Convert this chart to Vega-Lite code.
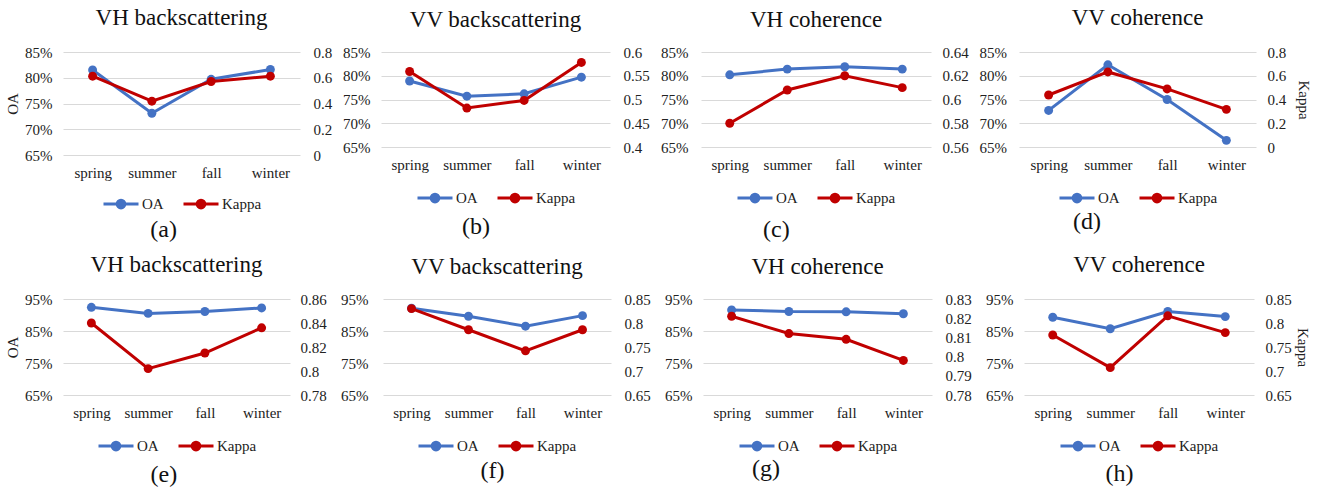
{
"$schema": "https://vega.github.io/schema/vega-lite/v6.json",
"padding": {"left": 5, "top": 7, "right": 5, "bottom": 5},
"datasets": {"acc": [
{"panel":"a","season":"spring","metric":"OA","value":0.815},{"panel":"a","season":"summer","metric":"OA","value":0.731},{"panel":"a","season":"fall","metric":"OA","value":0.797},{"panel":"a","season":"winter","metric":"OA","value":0.816},
{"panel":"a","season":"spring","metric":"Kappa","value":0.612},{"panel":"a","season":"summer","metric":"Kappa","value":0.418},{"panel":"a","season":"fall","metric":"Kappa","value":0.571},{"panel":"a","season":"winter","metric":"Kappa","value":0.612},
{"panel":"b","season":"spring","metric":"OA","value":0.789},{"panel":"b","season":"summer","metric":"OA","value":0.757},{"panel":"b","season":"fall","metric":"OA","value":0.762},{"panel":"b","season":"winter","metric":"OA","value":0.797},
{"panel":"b","season":"spring","metric":"Kappa","value":0.559},{"panel":"b","season":"summer","metric":"Kappa","value":0.482},{"panel":"b","season":"fall","metric":"Kappa","value":0.498},{"panel":"b","season":"winter","metric":"Kappa","value":0.578},
{"panel":"c","season":"spring","metric":"OA","value":0.802},{"panel":"c","season":"summer","metric":"OA","value":0.814},{"panel":"c","season":"fall","metric":"OA","value":0.819},{"panel":"c","season":"winter","metric":"OA","value":0.814},
{"panel":"c","season":"spring","metric":"Kappa","value":0.580},{"panel":"c","season":"summer","metric":"Kappa","value":0.608},{"panel":"c","season":"fall","metric":"Kappa","value":0.620},{"panel":"c","season":"winter","metric":"Kappa","value":0.610},
{"panel":"d","season":"spring","metric":"OA","value":0.727},{"panel":"d","season":"summer","metric":"OA","value":0.823},{"panel":"d","season":"fall","metric":"OA","value":0.750},{"panel":"d","season":"winter","metric":"OA","value":0.664},
{"panel":"d","season":"spring","metric":"Kappa","value":0.438},{"panel":"d","season":"summer","metric":"Kappa","value":0.632},{"panel":"d","season":"fall","metric":"Kappa","value":0.489},{"panel":"d","season":"winter","metric":"Kappa","value":0.317},
{"panel":"e","season":"spring","metric":"OA","value":0.924},{"panel":"e","season":"summer","metric":"OA","value":0.905},{"panel":"e","season":"fall","metric":"OA","value":0.911},{"panel":"e","season":"winter","metric":"OA","value":0.922},
{"panel":"e","season":"spring","metric":"Kappa","value":0.840},{"panel":"e","season":"summer","metric":"Kappa","value":0.802},{"panel":"e","season":"fall","metric":"Kappa","value":0.815},{"panel":"e","season":"winter","metric":"Kappa","value":0.836},
{"panel":"f","season":"spring","metric":"OA","value":0.921},{"panel":"f","season":"summer","metric":"OA","value":0.896},{"panel":"f","season":"fall","metric":"OA","value":0.865},{"panel":"f","season":"winter","metric":"OA","value":0.898},
{"panel":"f","season":"spring","metric":"Kappa","value":0.830},{"panel":"f","season":"summer","metric":"Kappa","value":0.786},{"panel":"f","season":"fall","metric":"Kappa","value":0.742},{"panel":"f","season":"winter","metric":"Kappa","value":0.786},
{"panel":"g","season":"spring","metric":"OA","value":0.916},{"panel":"g","season":"summer","metric":"OA","value":0.911},{"panel":"g","season":"fall","metric":"OA","value":0.910},{"panel":"g","season":"winter","metric":"OA","value":0.904},
{"panel":"g","season":"spring","metric":"Kappa","value":0.821},{"panel":"g","season":"summer","metric":"Kappa","value":0.812},{"panel":"g","season":"fall","metric":"Kappa","value":0.809},{"panel":"g","season":"winter","metric":"Kappa","value":0.798},
{"panel":"h","season":"spring","metric":"OA","value":0.893},{"panel":"h","season":"summer","metric":"OA","value":0.857},{"panel":"h","season":"fall","metric":"OA","value":0.911},{"panel":"h","season":"winter","metric":"OA","value":0.895},
{"panel":"h","season":"spring","metric":"Kappa","value":0.775},{"panel":"h","season":"summer","metric":"Kappa","value":0.707},{"panel":"h","season":"fall","metric":"Kappa","value":0.815},{"panel":"h","season":"winter","metric":"Kappa","value":0.780}
]},
"spacing": 12,
"resolve": {"scale": {"color": "independent", "x": "independent", "y": "independent"}, "legend": {"color": "independent"}},
"vconcat": [
{"spacing": 10,
 "resolve": {"scale": {"color": "independent", "x": "independent", "y": "independent"}, "legend": {"color": "independent"}},
 "hconcat": [
 {"title": {"text": "(a)", "orient": "bottom", "anchor": "middle", "fontSize": 24, "offset": 4, "dx": -5, "dy": 0},
  "resolve": {"scale": {"color": "independent"}, "legend": {"color": "independent"}},
  "vconcat": [{
   "title": {"text": "VH backscattering"}, "width": 237, "height": 103,
   "data": {"name": "acc"}, "transform": [{"filter": "datum.panel === 'a'"}],
   "encoding": {"x": {"field": "season", "type": "ordinal", "sort": ["spring","summer","fall","winter"], "scale": {"type": "point", "padding": 0.5}, "axis": {"title": null, "labelAngle": 0, "labelPadding": 10, "grid": false, "labelFont": "Liberation Serif"}}},
   "resolve": {"scale": {"y": "independent"}},
   "layer": [
    {"transform": [{"filter": "datum.metric === 'OA'"}], "mark": {"type": "line", "strokeWidth": 3, "point": {"filled": true, "size": 80}},
     "encoding": {"y": {"field": "value", "type": "quantitative", "scale": {"domain": [0.65, 0.85], "nice": false, "zero": false}, "axis": {"orient": "left", "format": ".0%", "values": [0.65,0.7,0.75,0.8,0.85], "grid": true, "title": "OA", "labelPadding": 11, "labelFont": "Liberation Serif", "titleFont": "Liberation Serif"}},
      "color": {"field": "metric", "type": "nominal", "scale": {"domain": ["OA","Kappa"], "range": ["#4472C4","#C00000"]}, "legend": {"title": null, "orient": "bottom", "direction": "horizontal", "labelFont": "Liberation Serif", "symbolType": "M-1,0L1,0M0.22,0A0.22,0.22,0,1,1,-0.22,0A0.22,0.22,0,1,1,0.22,0Z", "symbolSize": 1225, "symbolStrokeWidth": 3, "labelOffset": 2, "columnPadding": 13, "offset": 5, "encode": {"symbols": {"update": {"fill": {"signal": "datum.value === 'OA' ? '#4472C4' : '#C00000'"}, "stroke": {"signal": "datum.value === 'OA' ? '#4472C4' : '#C00000'"}, "fillOpacity": {"value": 1}, "opacity": {"value": 1}}}}}}}},
    {"transform": [{"filter": "datum.metric === 'Kappa'"}], "mark": {"type": "line", "strokeWidth": 3, "point": {"filled": true, "size": 80}},
     "encoding": {"y": {"field": "value", "type": "quantitative", "scale": {"domain": [0, 0.8], "nice": false, "zero": false}, "axis": {"orient": "right", "format": ".2~f", "values": [0,0.2,0.4,0.6,0.8], "grid": false, "title": null, "labelPadding": 13, "labelFont": "Liberation Serif"}},
      "color": {"field": "metric", "type": "nominal", "scale": {"domain": ["OA","Kappa"], "range": ["#4472C4","#C00000"]}, "legend": {"title": null, "orient": "bottom", "direction": "horizontal", "labelFont": "Liberation Serif", "symbolType": "M-1,0L1,0M0.22,0A0.22,0.22,0,1,1,-0.22,0A0.22,0.22,0,1,1,0.22,0Z", "symbolSize": 1225, "symbolStrokeWidth": 3, "labelOffset": 2, "columnPadding": 13, "offset": 5, "encode": {"symbols": {"update": {"fill": {"signal": "datum.value === 'OA' ? '#4472C4' : '#C00000'"}, "stroke": {"signal": "datum.value === 'OA' ? '#4472C4' : '#C00000'"}, "fillOpacity": {"value": 1}, "opacity": {"value": 1}}}}}}}}
   ]}]},
 {"title": {"text": "(b)", "orient": "bottom", "anchor": "middle", "fontSize": 24, "offset": 4, "dx": -20, "dy": 3},
  "resolve": {"scale": {"color": "independent"}, "legend": {"color": "independent"}},
  "vconcat": [{
   "title": {"text": "VV backscattering", "dy": 2}, "width": 229, "height": 95,
   "data": {"name": "acc"}, "transform": [{"filter": "datum.panel === 'b'"}],
   "encoding": {"x": {"field": "season", "type": "ordinal", "sort": ["spring","summer","fall","winter"], "scale": {"type": "point", "padding": 0.5}, "axis": {"title": null, "labelAngle": 0, "labelPadding": 10, "grid": false, "labelFont": "Liberation Serif"}}},
   "resolve": {"scale": {"y": "independent"}},
   "layer": [
    {"transform": [{"filter": "datum.metric === 'OA'"}], "mark": {"type": "line", "strokeWidth": 3, "point": {"filled": true, "size": 80}},
     "encoding": {"y": {"field": "value", "type": "quantitative", "scale": {"domain": [0.65, 0.85], "nice": false, "zero": false}, "axis": {"orient": "left", "format": ".0%", "values": [0.65,0.7,0.75,0.8,0.85], "grid": true, "title": null, "labelPadding": 11, "labelFont": "Liberation Serif"}},
      "color": {"field": "metric", "type": "nominal", "scale": {"domain": ["OA","Kappa"], "range": ["#4472C4","#C00000"]}, "legend": {"title": null, "orient": "bottom", "direction": "horizontal", "labelFont": "Liberation Serif", "symbolType": "M-1,0L1,0M0.22,0A0.22,0.22,0,1,1,-0.22,0A0.22,0.22,0,1,1,0.22,0Z", "symbolSize": 1225, "symbolStrokeWidth": 3, "labelOffset": 2, "columnPadding": 13, "offset": 7, "encode": {"symbols": {"update": {"fill": {"signal": "datum.value === 'OA' ? '#4472C4' : '#C00000'"}, "stroke": {"signal": "datum.value === 'OA' ? '#4472C4' : '#C00000'"}, "fillOpacity": {"value": 1}, "opacity": {"value": 1}}}}}}}},
    {"transform": [{"filter": "datum.metric === 'Kappa'"}], "mark": {"type": "line", "strokeWidth": 3, "point": {"filled": true, "size": 80}},
     "encoding": {"y": {"field": "value", "type": "quantitative", "scale": {"domain": [0.4, 0.6], "nice": false, "zero": false}, "axis": {"orient": "right", "format": ".2~f", "values": [0.4,0.45,0.5,0.55,0.6], "grid": false, "title": null, "labelPadding": 13, "labelFont": "Liberation Serif"}},
      "color": {"field": "metric", "type": "nominal", "scale": {"domain": ["OA","Kappa"], "range": ["#4472C4","#C00000"]}, "legend": {"title": null, "orient": "bottom", "direction": "horizontal", "labelFont": "Liberation Serif", "symbolType": "M-1,0L1,0M0.22,0A0.22,0.22,0,1,1,-0.22,0A0.22,0.22,0,1,1,0.22,0Z", "symbolSize": 1225, "symbolStrokeWidth": 3, "labelOffset": 2, "columnPadding": 13, "offset": 7, "encode": {"symbols": {"update": {"fill": {"signal": "datum.value === 'OA' ? '#4472C4' : '#C00000'"}, "stroke": {"signal": "datum.value === 'OA' ? '#4472C4' : '#C00000'"}, "fillOpacity": {"value": 1}, "opacity": {"value": 1}}}}}}}}
   ]}]},
 {"title": {"text": "(c)", "orient": "bottom", "anchor": "middle", "fontSize": 24, "offset": 4, "dx": -38, "dy": 6},
  "resolve": {"scale": {"color": "independent"}, "legend": {"color": "independent"}},
  "vconcat": [{
   "title": {"text": "VH coherence", "dy": 2}, "width": 230, "height": 95,
   "data": {"name": "acc"}, "transform": [{"filter": "datum.panel === 'c'"}],
   "encoding": {"x": {"field": "season", "type": "ordinal", "sort": ["spring","summer","fall","winter"], "scale": {"type": "point", "padding": 0.5}, "axis": {"title": null, "labelAngle": 0, "labelPadding": 10, "grid": false, "labelFont": "Liberation Serif"}}},
   "resolve": {"scale": {"y": "independent"}},
   "layer": [
    {"transform": [{"filter": "datum.metric === 'OA'"}], "mark": {"type": "line", "strokeWidth": 3, "point": {"filled": true, "size": 80}},
     "encoding": {"y": {"field": "value", "type": "quantitative", "scale": {"domain": [0.65, 0.85], "nice": false, "zero": false}, "axis": {"orient": "left", "format": ".0%", "values": [0.65,0.7,0.75,0.8,0.85], "grid": true, "title": null, "labelPadding": 13, "labelFont": "Liberation Serif"}},
      "color": {"field": "metric", "type": "nominal", "scale": {"domain": ["OA","Kappa"], "range": ["#4472C4","#C00000"]}, "legend": {"title": null, "orient": "bottom", "direction": "horizontal", "labelFont": "Liberation Serif", "symbolType": "M-1,0L1,0M0.22,0A0.22,0.22,0,1,1,-0.22,0A0.22,0.22,0,1,1,0.22,0Z", "symbolSize": 1225, "symbolStrokeWidth": 3, "labelOffset": 2, "columnPadding": 13, "offset": 7, "encode": {"symbols": {"update": {"fill": {"signal": "datum.value === 'OA' ? '#4472C4' : '#C00000'"}, "stroke": {"signal": "datum.value === 'OA' ? '#4472C4' : '#C00000'"}, "fillOpacity": {"value": 1}, "opacity": {"value": 1}}}}}}}},
    {"transform": [{"filter": "datum.metric === 'Kappa'"}], "mark": {"type": "line", "strokeWidth": 3, "point": {"filled": true, "size": 80}},
     "encoding": {"y": {"field": "value", "type": "quantitative", "scale": {"domain": [0.56, 0.64], "nice": false, "zero": false}, "axis": {"orient": "right", "format": ".2~f", "values": [0.56,0.58,0.6,0.62,0.64], "grid": false, "title": null, "labelPadding": 11, "labelFont": "Liberation Serif"}},
      "color": {"field": "metric", "type": "nominal", "scale": {"domain": ["OA","Kappa"], "range": ["#4472C4","#C00000"]}, "legend": {"title": null, "orient": "bottom", "direction": "horizontal", "labelFont": "Liberation Serif", "symbolType": "M-1,0L1,0M0.22,0A0.22,0.22,0,1,1,-0.22,0A0.22,0.22,0,1,1,0.22,0Z", "symbolSize": 1225, "symbolStrokeWidth": 3, "labelOffset": 2, "columnPadding": 13, "offset": 7, "encode": {"symbols": {"update": {"fill": {"signal": "datum.value === 'OA' ? '#4472C4' : '#C00000'"}, "stroke": {"signal": "datum.value === 'OA' ? '#4472C4' : '#C00000'"}, "fillOpacity": {"value": 1}, "opacity": {"value": 1}}}}}}}}
   ]}]},
 {"title": {"text": "(d)", "orient": "bottom", "anchor": "middle", "fontSize": 24, "offset": 4, "dx": -58, "dy": -2},
  "resolve": {"scale": {"color": "independent"}, "legend": {"color": "independent"}},
  "vconcat": [{
   "title": {"text": "VV coherence"}, "width": 237, "height": 95,
   "data": {"name": "acc"}, "transform": [{"filter": "datum.panel === 'd'"}],
   "encoding": {"x": {"field": "season", "type": "ordinal", "sort": ["spring","summer","fall","winter"], "scale": {"type": "point", "padding": 0.5}, "axis": {"title": null, "labelAngle": 0, "labelPadding": 10, "grid": false, "labelFont": "Liberation Serif"}}},
   "resolve": {"scale": {"y": "independent"}},
   "layer": [
    {"transform": [{"filter": "datum.metric === 'OA'"}], "mark": {"type": "line", "strokeWidth": 3, "point": {"filled": true, "size": 80}},
     "encoding": {"y": {"field": "value", "type": "quantitative", "scale": {"domain": [0.65, 0.85], "nice": false, "zero": false}, "axis": {"orient": "left", "format": ".0%", "values": [0.65,0.7,0.75,0.8,0.85], "grid": true, "title": null, "labelPadding": 12.5, "labelFont": "Liberation Serif"}},
      "color": {"field": "metric", "type": "nominal", "scale": {"domain": ["OA","Kappa"], "range": ["#4472C4","#C00000"]}, "legend": {"title": null, "orient": "bottom", "direction": "horizontal", "labelFont": "Liberation Serif", "symbolType": "M-1,0L1,0M0.22,0A0.22,0.22,0,1,1,-0.22,0A0.22,0.22,0,1,1,0.22,0Z", "symbolSize": 1225, "symbolStrokeWidth": 3, "labelOffset": 2, "columnPadding": 13, "offset": 7, "encode": {"symbols": {"update": {"fill": {"signal": "datum.value === 'OA' ? '#4472C4' : '#C00000'"}, "stroke": {"signal": "datum.value === 'OA' ? '#4472C4' : '#C00000'"}, "fillOpacity": {"value": 1}, "opacity": {"value": 1}}}}}}}},
    {"transform": [{"filter": "datum.metric === 'Kappa'"}], "mark": {"type": "line", "strokeWidth": 3, "point": {"filled": true, "size": 80}},
     "encoding": {"y": {"field": "value", "type": "quantitative", "scale": {"domain": [0, 0.8], "nice": false, "zero": false}, "axis": {"orient": "right", "format": ".2~f", "values": [0,0.2,0.4,0.6,0.8], "grid": false, "title": "Kappa", "titlePadding": 10, "labelPadding": 11, "labelFont": "Liberation Serif", "titleFont": "Liberation Serif"}},
      "color": {"field": "metric", "type": "nominal", "scale": {"domain": ["OA","Kappa"], "range": ["#4472C4","#C00000"]}, "legend": {"title": null, "orient": "bottom", "direction": "horizontal", "labelFont": "Liberation Serif", "symbolType": "M-1,0L1,0M0.22,0A0.22,0.22,0,1,1,-0.22,0A0.22,0.22,0,1,1,0.22,0Z", "symbolSize": 1225, "symbolStrokeWidth": 3, "labelOffset": 2, "columnPadding": 13, "offset": 7, "encode": {"symbols": {"update": {"fill": {"signal": "datum.value === 'OA' ? '#4472C4' : '#C00000'"}, "stroke": {"signal": "datum.value === 'OA' ? '#4472C4' : '#C00000'"}, "fillOpacity": {"value": 1}, "opacity": {"value": 1}}}}}}}}
   ]}]}
 ]},
{"spacing": 13,
 "resolve": {"scale": {"color": "independent", "x": "independent", "y": "independent"}, "legend": {"color": "independent"}},
 "hconcat": [
 {"title": {"text": "(e)", "orient": "bottom", "anchor": "middle", "fontSize": 24, "offset": 4, "dx": -2, "dy": 3},
  "resolve": {"scale": {"color": "independent"}, "legend": {"color": "independent"}},
  "vconcat": [{
   "title": {"text": "VH backscattering"}, "width": 227, "height": 96,
   "data": {"name": "acc"}, "transform": [{"filter": "datum.panel === 'e'"}],
   "encoding": {"x": {"field": "season", "type": "ordinal", "sort": ["spring","summer","fall","winter"], "scale": {"type": "point", "padding": 0.5}, "axis": {"title": null, "labelAngle": 0, "labelPadding": 10, "grid": false, "labelFont": "Liberation Serif"}}},
   "resolve": {"scale": {"y": "independent"}},
   "layer": [
    {"transform": [{"filter": "datum.metric === 'OA'"}], "mark": {"type": "line", "strokeWidth": 3, "point": {"filled": true, "size": 80}},
     "encoding": {"y": {"field": "value", "type": "quantitative", "scale": {"domain": [0.65, 0.95], "nice": false, "zero": false}, "axis": {"orient": "left", "format": ".0%", "values": [0.65,0.75,0.85,0.95], "grid": true, "title": "OA", "labelPadding": 11, "labelFont": "Liberation Serif", "titleFont": "Liberation Serif"}},
      "color": {"field": "metric", "type": "nominal", "scale": {"domain": ["OA","Kappa"], "range": ["#4472C4","#C00000"]}, "legend": {"title": null, "orient": "bottom", "direction": "horizontal", "labelFont": "Liberation Serif", "symbolType": "M-1,0L1,0M0.22,0A0.22,0.22,0,1,1,-0.22,0A0.22,0.22,0,1,1,0.22,0Z", "symbolSize": 1225, "symbolStrokeWidth": 3, "labelOffset": 2, "columnPadding": 13, "offset": 7, "encode": {"symbols": {"update": {"fill": {"signal": "datum.value === 'OA' ? '#4472C4' : '#C00000'"}, "stroke": {"signal": "datum.value === 'OA' ? '#4472C4' : '#C00000'"}, "fillOpacity": {"value": 1}, "opacity": {"value": 1}}}}}}}},
    {"transform": [{"filter": "datum.metric === 'Kappa'"}], "mark": {"type": "line", "strokeWidth": 3, "point": {"filled": true, "size": 80}},
     "encoding": {"y": {"field": "value", "type": "quantitative", "scale": {"domain": [0.78, 0.86], "nice": false, "zero": false}, "axis": {"orient": "right", "format": ".2~f", "values": [0.78,0.8,0.82,0.84,0.86], "grid": false, "title": null, "labelPadding": 10, "labelFont": "Liberation Serif"}},
      "color": {"field": "metric", "type": "nominal", "scale": {"domain": ["OA","Kappa"], "range": ["#4472C4","#C00000"]}, "legend": {"title": null, "orient": "bottom", "direction": "horizontal", "labelFont": "Liberation Serif", "symbolType": "M-1,0L1,0M0.22,0A0.22,0.22,0,1,1,-0.22,0A0.22,0.22,0,1,1,0.22,0Z", "symbolSize": 1225, "symbolStrokeWidth": 3, "labelOffset": 2, "columnPadding": 13, "offset": 7, "encode": {"symbols": {"update": {"fill": {"signal": "datum.value === 'OA' ? '#4472C4' : '#C00000'"}, "stroke": {"signal": "datum.value === 'OA' ? '#4472C4' : '#C00000'"}, "fillOpacity": {"value": 1}, "opacity": {"value": 1}}}}}}}}
   ]}]},
 {"title": {"text": "(f)", "orient": "bottom", "anchor": "middle", "fontSize": 24, "offset": 4, "dx": -3, "dy": -1},
  "resolve": {"scale": {"color": "independent"}, "legend": {"color": "independent"}},
  "vconcat": [{
   "title": {"text": "VV backscattering", "dy": 2}, "width": 228, "height": 96,
   "data": {"name": "acc"}, "transform": [{"filter": "datum.panel === 'f'"}],
   "encoding": {"x": {"field": "season", "type": "ordinal", "sort": ["spring","summer","fall","winter"], "scale": {"type": "point", "padding": 0.5}, "axis": {"title": null, "labelAngle": 0, "labelPadding": 10, "grid": false, "labelFont": "Liberation Serif"}}},
   "resolve": {"scale": {"y": "independent"}},
   "layer": [
    {"transform": [{"filter": "datum.metric === 'OA'"}], "mark": {"type": "line", "strokeWidth": 3, "point": {"filled": true, "size": 80}},
     "encoding": {"y": {"field": "value", "type": "quantitative", "scale": {"domain": [0.65, 0.95], "nice": false, "zero": false}, "axis": {"orient": "left", "format": ".0%", "values": [0.65,0.75,0.85,0.95], "grid": true, "title": null, "labelPadding": 15, "labelFont": "Liberation Serif"}},
      "color": {"field": "metric", "type": "nominal", "scale": {"domain": ["OA","Kappa"], "range": ["#4472C4","#C00000"]}, "legend": {"title": null, "orient": "bottom", "direction": "horizontal", "labelFont": "Liberation Serif", "symbolType": "M-1,0L1,0M0.22,0A0.22,0.22,0,1,1,-0.22,0A0.22,0.22,0,1,1,0.22,0Z", "symbolSize": 1225, "symbolStrokeWidth": 3, "labelOffset": 2, "columnPadding": 13, "offset": 7, "encode": {"symbols": {"update": {"fill": {"signal": "datum.value === 'OA' ? '#4472C4' : '#C00000'"}, "stroke": {"signal": "datum.value === 'OA' ? '#4472C4' : '#C00000'"}, "fillOpacity": {"value": 1}, "opacity": {"value": 1}}}}}}}},
    {"transform": [{"filter": "datum.metric === 'Kappa'"}], "mark": {"type": "line", "strokeWidth": 3, "point": {"filled": true, "size": 80}},
     "encoding": {"y": {"field": "value", "type": "quantitative", "scale": {"domain": [0.65, 0.85], "nice": false, "zero": false}, "axis": {"orient": "right", "format": ".2~f", "values": [0.65,0.7,0.75,0.8,0.85], "grid": false, "title": null, "labelPadding": 13, "labelFont": "Liberation Serif"}},
      "color": {"field": "metric", "type": "nominal", "scale": {"domain": ["OA","Kappa"], "range": ["#4472C4","#C00000"]}, "legend": {"title": null, "orient": "bottom", "direction": "horizontal", "labelFont": "Liberation Serif", "symbolType": "M-1,0L1,0M0.22,0A0.22,0.22,0,1,1,-0.22,0A0.22,0.22,0,1,1,0.22,0Z", "symbolSize": 1225, "symbolStrokeWidth": 3, "labelOffset": 2, "columnPadding": 13, "offset": 7, "encode": {"symbols": {"update": {"fill": {"signal": "datum.value === 'OA' ? '#4472C4' : '#C00000'"}, "stroke": {"signal": "datum.value === 'OA' ? '#4472C4' : '#C00000'"}, "fillOpacity": {"value": 1}, "opacity": {"value": 1}}}}}}}}
   ]}]},
 {"title": {"text": "(g)", "orient": "bottom", "anchor": "middle", "fontSize": 24, "offset": 4, "dx": -52, "dy": -3},
  "resolve": {"scale": {"color": "independent"}, "legend": {"color": "independent"}},
  "vconcat": [{
   "title": {"text": "VH coherence", "dy": 2}, "width": 229, "height": 96,
   "data": {"name": "acc"}, "transform": [{"filter": "datum.panel === 'g'"}],
   "encoding": {"x": {"field": "season", "type": "ordinal", "sort": ["spring","summer","fall","winter"], "scale": {"type": "point", "padding": 0.5}, "axis": {"title": null, "labelAngle": 0, "labelPadding": 10, "grid": false, "labelFont": "Liberation Serif"}}},
   "resolve": {"scale": {"y": "independent"}},
   "layer": [
    {"transform": [{"filter": "datum.metric === 'OA'"}], "mark": {"type": "line", "strokeWidth": 3, "point": {"filled": true, "size": 80}},
     "encoding": {"y": {"field": "value", "type": "quantitative", "scale": {"domain": [0.65, 0.95], "nice": false, "zero": false}, "axis": {"orient": "left", "format": ".0%", "values": [0.65,0.75,0.85,0.95], "grid": true, "title": null, "labelPadding": 11, "labelFont": "Liberation Serif"}},
      "color": {"field": "metric", "type": "nominal", "scale": {"domain": ["OA","Kappa"], "range": ["#4472C4","#C00000"]}, "legend": {"title": null, "orient": "bottom", "direction": "horizontal", "labelFont": "Liberation Serif", "symbolType": "M-1,0L1,0M0.22,0A0.22,0.22,0,1,1,-0.22,0A0.22,0.22,0,1,1,0.22,0Z", "symbolSize": 1225, "symbolStrokeWidth": 3, "labelOffset": 2, "columnPadding": 13, "offset": 7, "encode": {"symbols": {"update": {"fill": {"signal": "datum.value === 'OA' ? '#4472C4' : '#C00000'"}, "stroke": {"signal": "datum.value === 'OA' ? '#4472C4' : '#C00000'"}, "fillOpacity": {"value": 1}, "opacity": {"value": 1}}}}}}}},
    {"transform": [{"filter": "datum.metric === 'Kappa'"}], "mark": {"type": "line", "strokeWidth": 3, "point": {"filled": true, "size": 80}},
     "encoding": {"y": {"field": "value", "type": "quantitative", "scale": {"domain": [0.78, 0.83], "nice": false, "zero": false}, "axis": {"orient": "right", "format": ".2~f", "values": [0.78,0.79,0.8,0.81,0.82,0.83], "grid": false, "title": null, "labelPadding": 13, "labelFont": "Liberation Serif"}},
      "color": {"field": "metric", "type": "nominal", "scale": {"domain": ["OA","Kappa"], "range": ["#4472C4","#C00000"]}, "legend": {"title": null, "orient": "bottom", "direction": "horizontal", "labelFont": "Liberation Serif", "symbolType": "M-1,0L1,0M0.22,0A0.22,0.22,0,1,1,-0.22,0A0.22,0.22,0,1,1,0.22,0Z", "symbolSize": 1225, "symbolStrokeWidth": 3, "labelOffset": 2, "columnPadding": 13, "offset": 7, "encode": {"symbols": {"update": {"fill": {"signal": "datum.value === 'OA' ? '#4472C4' : '#C00000'"}, "stroke": {"signal": "datum.value === 'OA' ? '#4472C4' : '#C00000'"}, "fillOpacity": {"value": 1}, "opacity": {"value": 1}}}}}}}}
   ]}]},
 {"title": {"text": "(h)", "orient": "bottom", "anchor": "middle", "fontSize": 24, "offset": 4, "dx": -28, "dy": 2},
  "resolve": {"scale": {"color": "independent"}, "legend": {"color": "independent"}},
  "vconcat": [{
   "title": {"text": "VV coherence"}, "width": 230, "height": 96,
   "data": {"name": "acc"}, "transform": [{"filter": "datum.panel === 'h'"}],
   "encoding": {"x": {"field": "season", "type": "ordinal", "sort": ["spring","summer","fall","winter"], "scale": {"type": "point", "padding": 0.5}, "axis": {"title": null, "labelAngle": 0, "labelPadding": 10, "grid": false, "labelFont": "Liberation Serif"}}},
   "resolve": {"scale": {"y": "independent"}},
   "layer": [
    {"transform": [{"filter": "datum.metric === 'OA'"}], "mark": {"type": "line", "strokeWidth": 3, "point": {"filled": true, "size": 80}},
     "encoding": {"y": {"field": "value", "type": "quantitative", "scale": {"domain": [0.65, 0.95], "nice": false, "zero": false}, "axis": {"orient": "left", "format": ".0%", "values": [0.65,0.75,0.85,0.95], "grid": true, "title": null, "labelPadding": 11, "labelFont": "Liberation Serif"}},
      "color": {"field": "metric", "type": "nominal", "scale": {"domain": ["OA","Kappa"], "range": ["#4472C4","#C00000"]}, "legend": {"title": null, "orient": "bottom", "direction": "horizontal", "labelFont": "Liberation Serif", "symbolType": "M-1,0L1,0M0.22,0A0.22,0.22,0,1,1,-0.22,0A0.22,0.22,0,1,1,0.22,0Z", "symbolSize": 1225, "symbolStrokeWidth": 3, "labelOffset": 2, "columnPadding": 13, "offset": 7, "encode": {"symbols": {"update": {"fill": {"signal": "datum.value === 'OA' ? '#4472C4' : '#C00000'"}, "stroke": {"signal": "datum.value === 'OA' ? '#4472C4' : '#C00000'"}, "fillOpacity": {"value": 1}, "opacity": {"value": 1}}}}}}}},
    {"transform": [{"filter": "datum.metric === 'Kappa'"}], "mark": {"type": "line", "strokeWidth": 3, "point": {"filled": true, "size": 80}},
     "encoding": {"y": {"field": "value", "type": "quantitative", "scale": {"domain": [0.65, 0.85], "nice": false, "zero": false}, "axis": {"orient": "right", "format": ".2~f", "values": [0.65,0.7,0.75,0.8,0.85], "grid": false, "title": "Kappa", "titlePadding": 3, "labelPadding": 11, "labelFont": "Liberation Serif", "titleFont": "Liberation Serif"}},
      "color": {"field": "metric", "type": "nominal", "scale": {"domain": ["OA","Kappa"], "range": ["#4472C4","#C00000"]}, "legend": {"title": null, "orient": "bottom", "direction": "horizontal", "labelFont": "Liberation Serif", "symbolType": "M-1,0L1,0M0.22,0A0.22,0.22,0,1,1,-0.22,0A0.22,0.22,0,1,1,0.22,0Z", "symbolSize": 1225, "symbolStrokeWidth": 3, "labelOffset": 2, "columnPadding": 13, "offset": 7, "encode": {"symbols": {"update": {"fill": {"signal": "datum.value === 'OA' ? '#4472C4' : '#C00000'"}, "stroke": {"signal": "datum.value === 'OA' ? '#4472C4' : '#C00000'"}, "fillOpacity": {"value": 1}, "opacity": {"value": 1}}}}}}}}
   ]}]}
 ]}
],
"config": {
 "font": "Liberation Serif",
 "view": {"stroke": null},
 "style": {"guide-label": {"font": "Liberation Serif"}, "guide-title": {"font": "Liberation Serif"}},
 "axis": {"labelFont": "Liberation Serif", "labelFontSize": 15, "labelColor": "#222", "titleFont": "Liberation Serif", "titleFontSize": 15, "titleFontWeight": "normal", "titleColor": "#222", "domain": false, "ticks": false, "gridColor": "#D9D9D9", "gridWidth": 1, "labelOverlap": false},
 "legend": {"labelFont": "Liberation Serif", "labelFontSize": 15, "labelColor": "#222", "layout": {"bottom": {"anchor": "middle"}}},
 "title": {"font": "Liberation Serif", "fontSize": 23, "fontWeight": "normal", "color": "#111", "offset": 15}
}
}
